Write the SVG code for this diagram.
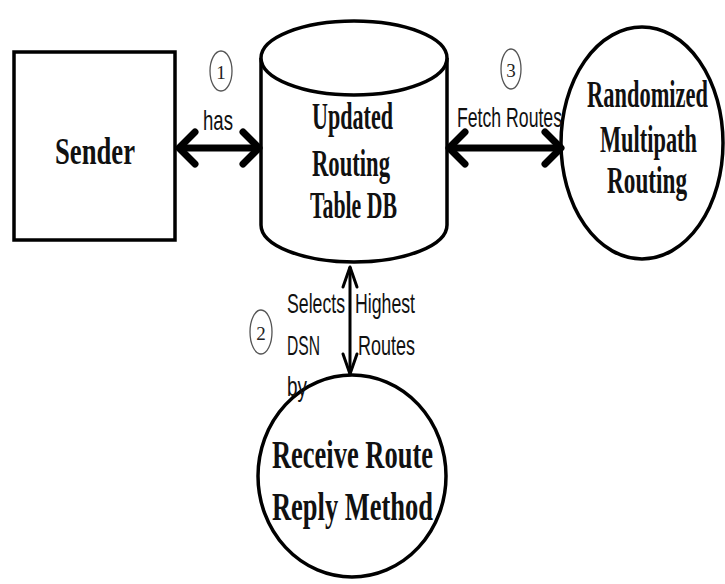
<svg xmlns="http://www.w3.org/2000/svg" width="725" height="584" viewBox="0 0 725 584">
  <style>
    .node { fill: #ffffff; stroke: #000000; stroke-width: 3.5; }
    .title { font-family: "Liberation Serif", "Times New Roman", serif; font-weight: bold; font-size: 37px; fill: #111111; }
    .label { font-family: "Liberation Sans", Arial, sans-serif; font-size: 28px; fill: #111111; }
    .step { fill: #ffffff; stroke: #555555; stroke-width: 1.3; }
    .stepnum { font-family: "Liberation Serif", "Times New Roman", serif; font-size: 19px; fill: #222222; text-anchor: middle; }
    .link-bold { fill: none; stroke: #000000; stroke-width: 7; }
    .link-thin { fill: none; stroke: #000000; stroke-width: 3; }
  </style>
  <defs>
    <marker id="chevBold" viewBox="-22 -22 28 44" refX="0" refY="0" markerWidth="28" markerHeight="44" markerUnits="userSpaceOnUse" orient="auto-start-reverse">
      <path d="M -16 -16 L 0 0 L -16 16" fill="none" stroke="#000000" stroke-width="7" stroke-linecap="round" stroke-linejoin="round"/>
    </marker>
    <marker id="chevThin" viewBox="-24 -12 28 24" refX="0" refY="0" markerWidth="28" markerHeight="24" markerUnits="userSpaceOnUse" orient="auto-start-reverse">
      <path d="M -20 -7 L 0 0 L -20 7" fill="none" stroke="#000000" stroke-width="3" stroke-linecap="round" stroke-linejoin="round"/>
    </marker>
  </defs>

  <rect width="725" height="584" fill="#ffffff"/>

  <!-- Nodes -->
  <g id="sender">
    <rect class="node" x="14" y="52" width="161" height="188"/>
    <text class="title" x="55" y="164" textLength="80" lengthAdjust="spacingAndGlyphs">Sender</text>
  </g>

  <g id="routing-table-db">
    <path class="node" d="M 261 58 L 261 225 A 93 37 0 0 0 447 225 L 447 58"/>
    <ellipse class="node" cx="354" cy="58" rx="93" ry="37"/>
    <text class="title" x="312" y="129" textLength="81" lengthAdjust="spacingAndGlyphs">Updated</text>
    <text class="title" x="312" y="176" textLength="78" lengthAdjust="spacingAndGlyphs">Routing</text>
    <text class="title" x="310" y="218" textLength="87" lengthAdjust="spacingAndGlyphs">Table DB</text>
  </g>

  <g id="randomized-multipath">
    <ellipse class="node" cx="642" cy="143" rx="81" ry="116"/>
    <text class="title" x="587" y="107" textLength="121" lengthAdjust="spacingAndGlyphs">Randomized</text>
    <text class="title" x="600" y="152" textLength="97" lengthAdjust="spacingAndGlyphs">Multipath</text>
    <text class="title" x="607" y="193" textLength="80" lengthAdjust="spacingAndGlyphs">Routing</text>
  </g>

  <g id="receive-route-reply">
    <ellipse class="node" cx="352" cy="476" rx="94" ry="101"/>
    <text class="title" x="272" y="468" style="font-size:39px" textLength="161" lengthAdjust="spacingAndGlyphs">Receive Route</text>
    <text class="title" x="272" y="520" style="font-size:39px" textLength="161" lengthAdjust="spacingAndGlyphs">Reply Method</text>
  </g>

  <!-- Connectors -->
  <g id="connectors">
    <line class="link-bold" x1="179" y1="148" x2="259" y2="148" marker-start="url(#chevBold)" marker-end="url(#chevBold)"/>
    <line class="link-bold" x1="449" y1="148" x2="561" y2="148" marker-start="url(#chevBold)" marker-end="url(#chevBold)"/>
    <line class="link-thin" x1="350" y1="267" x2="350" y2="374" marker-start="url(#chevThin)" marker-end="url(#chevThin)"/>
  </g>

  <!-- Connector labels and step numbers -->
  <g id="labels">
    <text class="label" x="203" y="130" textLength="30" lengthAdjust="spacingAndGlyphs">has</text>
    <text class="label" x="457" y="127" textLength="105" lengthAdjust="spacingAndGlyphs">Fetch Routes</text>
    <text class="label" x="287" y="313" textLength="58" lengthAdjust="spacingAndGlyphs">Selects</text>
    <text class="label" x="355" y="313" textLength="60" lengthAdjust="spacingAndGlyphs">Highest</text>
    <text class="label" x="287" y="355" textLength="33" lengthAdjust="spacingAndGlyphs">DSN</text>
    <text class="label" x="358" y="355" textLength="57" lengthAdjust="spacingAndGlyphs">Routes</text>
    <text class="label" x="287" y="396" textLength="20" lengthAdjust="spacingAndGlyphs">by</text>

    <ellipse class="step" cx="221" cy="71" rx="11" ry="20"/>
    <text class="stepnum" x="221" y="79">1</text>
    <ellipse class="step" cx="511" cy="69" rx="10" ry="20"/>
    <text class="stepnum" x="511" y="77">3</text>
    <ellipse class="step" cx="261" cy="332" rx="11" ry="22"/>
    <text class="stepnum" x="261" y="340">2</text>
  </g>
</svg>
